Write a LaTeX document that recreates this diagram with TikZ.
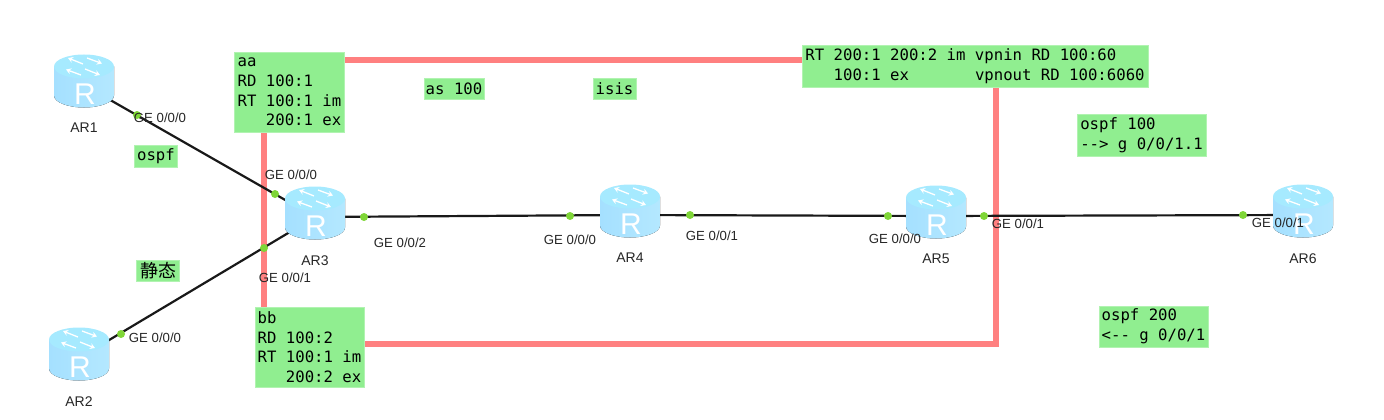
\documentclass[tikz,border=0pt]{standalone}
\usepackage{fontspec}
\setmainfont{Liberation Sans}
\setmonofont{DejaVu Sans Mono}
\newfontfamily\cjkfont{Noto Sans CJK SC}
\usetikzlibrary{arrows.meta, backgrounds}
\definecolor{notegreen}{HTML}{90EE90}
\definecolor{vrfpink}{HTML}{FF8080}
\definecolor{portgreen}{HTML}{7FD637}
\definecolor{routerside}{HTML}{7CCBFB}
\definecolor{routerleft}{HTML}{A5E0FF}
\definecolor{routerright}{HTML}{B4E8FF}
\definecolor{routertop}{HTML}{A6EAFF}
\newcommand{\notefont}{\fontsize{15.65}{19.6}\selectfont\ttfamily}

\begin{document}
\begin{tikzpicture}
    [
        x=1pt, y=-1pt,
        router_node/.style={rectangle, inner sep=0pt, minimum width=60, minimum height=61, path picture={
            \fill[left color=routerleft, middle color=routerside, right color=routerright] (-30,-18.5) -- (-30,10.5) arc[start angle=180, end angle=0, x radius=30, y radius=12] -- (30,-18.5) -- cycle;
            \fill[routertop] (0,-18.5) ellipse[x radius=30, y radius=12];
            \foreach \xa/\ya/\xb/\yb in {-1/-21/-16/-27, 3/-27/18/-21.5, 1/-16/16/-10, -3/-10/-18/-15.5} {
                \draw[white, line width=1.3pt, -{Stealth[length=5pt, width=6pt]}] (\xa,\ya) -- (\xb,\yb);
            }
            \node[white, inner sep=0pt, font=\fontsize{30}{30}\selectfont] at (1,9.5) {R};
        }},
        router_label/.style={yshift=-4pt, font=\fontsize{14}{15}\selectfont, text=black!85},
        note_node/.style={rectangle, fill=notegreen, draw=notegreen!70!white, line width=0.5pt, inner sep=0pt, align=left, font=\notefont},
        port_dot/.style={circle, fill=portgreen, inner sep=0pt, minimum size=8},
        port_label/.style={inner sep=0pt, font=\fontsize{13.2}{15}\selectfont, text=black!85},
        link_line/.style={line width=2.2pt, color=black!90},
        vrf_line/.style={line width=6pt, color=vrfpink},
    ]
        \useasboundingbox (0,0) rectangle (1384,420);

        \node[router_node, label={[router_label]below:AR1}] (ar1) at (84,85) {};
        \node[router_node, label={[router_label]below:AR2}] (ar2) at (79,358) {};
        \node[router_node, label={[router_label]below:AR3}] (ar3) at (315,217) {};
        \node[router_node, label={[router_label]below:AR4}] (ar4) at (630,215) {};
        \node[router_node, label={[router_label]below:AR5}] (ar5) at (936,216) {};
        \node[router_node, label={[router_label]below:AR6}] (ar6) at (1303,215) {};

        \coordinate (vrf_nw) at (264,60);
        \coordinate (vrf_se) at (996,344);

        \node[note_node, minimum width=110, minimum height=80] (aa) at (289.5,92) {aa\\RD 100:1\\RT 100:1 im\\\ \ \ 200:1 ex};
        \node[note_node, minimum width=109, minimum height=80] (bb) at (309.5,347) {bb\\RD 100:2\\RT 100:1 im\\\ \ \ 200:2 ex};
        \node[note_node, minimum width=346, minimum height=42] (vpn) at (975,66) {RT 200:1 200:2 im vpnin RD 100:60\\\ \ \ 100:1 ex\ \ \ \ \ \ \ vpnout RD 100:6060};
        \node[note_node, minimum width=129, minimum height=42] (ospfa) at (1141.5,135) {ospf 100\\-{}-> g 0/0/1.1};
        \node[note_node, minimum width=109, minimum height=41] (ospfb) at (1153.5,326.5) {ospf 200\\<-{}- g 0/0/1};
        \node[note_node, minimum width=60, minimum height=21] (as) at (454,89) {as 100};
        \node[note_node, minimum width=43, minimum height=21] (isis) at (614.5,89) {isis};
        \node[note_node, minimum width=43, minimum height=22] (ospf) at (156,156) {ospf};
        \node[note_node, minimum width=43, minimum height=21, font=\fontsize{18}{20}\selectfont\cjkfont] (static) at (158,271) {静态};

        \node[port_dot] (p1) at (137,115) {};
        \node[port_dot] (p2) at (121,334) {};
        \node[port_dot] (p3a) at (275,194) {};
        \node[port_dot] (p3b) at (264,248) {};
        \node[port_dot] (p3c) at (364,217) {};
        \node[port_dot] (p4a) at (570,216) {};
        \node[port_dot] (p4b) at (690,215) {};
        \node[port_dot] (p5a) at (888,216) {};
        \node[port_dot] (p5b) at (984,216) {};
        \node[port_dot] (p6) at (1243,215) {};

        \node[port_label] (l1) at (160,118) {GE 0/0/0};
        \node[port_label] (l2) at (155,338) {GE 0/0/0};
        \node[port_label] (l3a) at (291,175) {GE 0/0/0};
        \node[port_label] (l3b) at (285,278) {GE 0/0/1};
        \node[port_label] (l3c) at (400,243) {GE 0/0/2};
        \node[port_label] (l4a) at (570,240) {GE 0/0/0};
        \node[port_label] (l4b) at (712,236) {GE 0/0/1};
        \node[port_label] (l5a) at (895,239) {GE 0/0/0};
        \node[port_label] (l5b) at (1018,224) {GE 0/0/1};
        \node[port_label] (l6) at (1278,223) {GE 0/0/1};

        \begin{scope}[on background layer]
            \draw[vrf_line] (vrf_nw) rectangle (vrf_se);
            \draw[link_line] (ar1.center) to (ar3.center);
            \draw[link_line] (ar2.center) to (ar3.center);
            \draw[link_line] (ar3.center) to (ar4.center);
            \draw[link_line] (ar4.center) to (ar5.center);
            \draw[link_line] (ar5.center) to (ar6.center);
        \end{scope}
    \end{tikzpicture}
\end{document}
